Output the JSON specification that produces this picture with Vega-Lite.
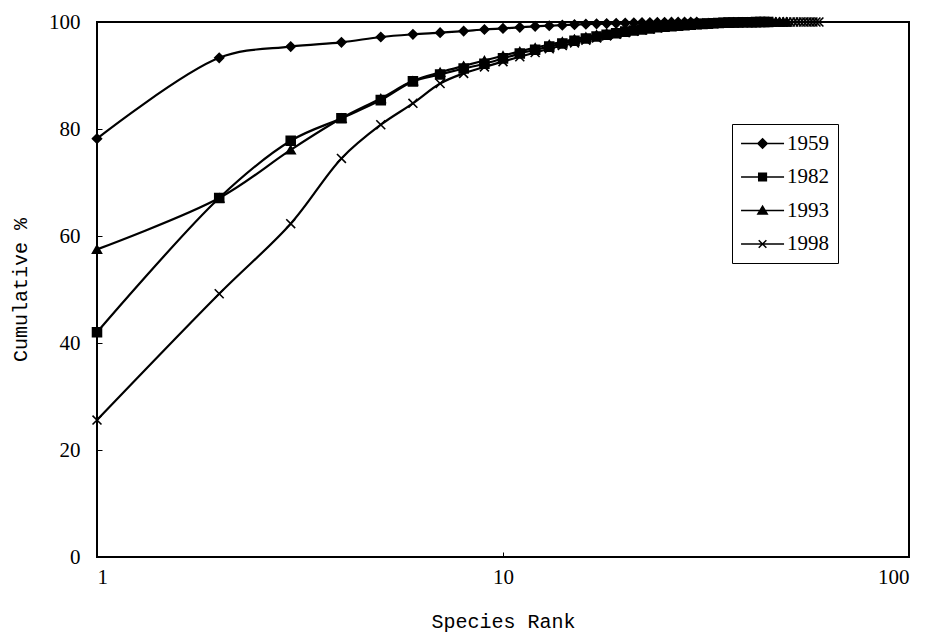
{
  "$schema": "https://vega.github.io/schema/vega-lite/v6.json",
  "width": 812,
  "height": 535,
  "autosize": "none",
  "padding": {"left": 97, "top": 22, "right": 25, "bottom": 78},
  "background": "white",
  "config": {
    "view": {"stroke": "black", "strokeWidth": 2},
    "axis": {
      "labelFont": "Liberation Serif",
      "labelFontSize": 21,
      "labelColor": "black",
      "titleFont": "Liberation Mono",
      "titleFontSize": 20,
      "titleFontWeight": "normal",
      "titleColor": "black",
      "tickColor": "black",
      "tickSize": -5,
      "domain": false,
      "grid": false
    }
  },
  "datasets": {
    "d": [
      {"year": "1959", "rank": 1, "pct": 78.2}, {"year": "1959", "rank": 2, "pct": 93.3}, {"year": "1959", "rank": 3, "pct": 95.4}, {"year": "1959", "rank": 4, "pct": 96.2}, {"year": "1959", "rank": 5, "pct": 97.2}, {"year": "1959", "rank": 6, "pct": 97.7}, {"year": "1959", "rank": 7, "pct": 98.0}, {"year": "1959", "rank": 8, "pct": 98.3}, {"year": "1959", "rank": 9, "pct": 98.6}, {"year": "1959", "rank": 10, "pct": 98.8},
      {"year": "1959", "rank": 11, "pct": 99.0}, {"year": "1959", "rank": 12, "pct": 99.2}, {"year": "1959", "rank": 13, "pct": 99.3}, {"year": "1959", "rank": 14, "pct": 99.4}, {"year": "1959", "rank": 15, "pct": 99.5}, {"year": "1959", "rank": 16, "pct": 99.6}, {"year": "1959", "rank": 17, "pct": 99.65}, {"year": "1959", "rank": 18, "pct": 99.7}, {"year": "1959", "rank": 19, "pct": 99.75}, {"year": "1959", "rank": 20, "pct": 99.8},
      {"year": "1959", "rank": 21, "pct": 99.85}, {"year": "1959", "rank": 22, "pct": 99.88}, {"year": "1959", "rank": 23, "pct": 99.9}, {"year": "1959", "rank": 24, "pct": 99.92}, {"year": "1959", "rank": 25, "pct": 99.94}, {"year": "1959", "rank": 26, "pct": 99.96}, {"year": "1959", "rank": 27, "pct": 99.97}, {"year": "1959", "rank": 28, "pct": 99.98}, {"year": "1959", "rank": 29, "pct": 99.99}, {"year": "1959", "rank": 30, "pct": 100},

      {"year": "1982", "rank": 1, "pct": 42.0}, {"year": "1982", "rank": 2, "pct": 67.1}, {"year": "1982", "rank": 3, "pct": 77.8}, {"year": "1982", "rank": 4, "pct": 82.0}, {"year": "1982", "rank": 5, "pct": 85.4}, {"year": "1982", "rank": 6, "pct": 88.9}, {"year": "1982", "rank": 7, "pct": 90.2}, {"year": "1982", "rank": 8, "pct": 91.3}, {"year": "1982", "rank": 9, "pct": 92.2}, {"year": "1982", "rank": 10, "pct": 93.2},
      {"year": "1982", "rank": 11, "pct": 94.1}, {"year": "1982", "rank": 12, "pct": 94.8}, {"year": "1982", "rank": 13, "pct": 95.4}, {"year": "1982", "rank": 14, "pct": 96.0}, {"year": "1982", "rank": 15, "pct": 96.5}, {"year": "1982", "rank": 16, "pct": 96.9}, {"year": "1982", "rank": 17, "pct": 97.3}, {"year": "1982", "rank": 18, "pct": 97.6}, {"year": "1982", "rank": 19, "pct": 97.9}, {"year": "1982", "rank": 20, "pct": 98.2},
      {"year": "1982", "rank": 21, "pct": 98.4}, {"year": "1982", "rank": 22, "pct": 98.6}, {"year": "1982", "rank": 23, "pct": 98.8}, {"year": "1982", "rank": 24, "pct": 99.0}, {"year": "1982", "rank": 25, "pct": 99.1}, {"year": "1982", "rank": 26, "pct": 99.2}, {"year": "1982", "rank": 27, "pct": 99.3}, {"year": "1982", "rank": 28, "pct": 99.4}, {"year": "1982", "rank": 29, "pct": 99.5}, {"year": "1982", "rank": 30, "pct": 99.6},
      {"year": "1982", "rank": 31, "pct": 99.65}, {"year": "1982", "rank": 32, "pct": 99.7}, {"year": "1982", "rank": 33, "pct": 99.75}, {"year": "1982", "rank": 34, "pct": 99.8}, {"year": "1982", "rank": 35, "pct": 99.85}, {"year": "1982", "rank": 36, "pct": 99.88}, {"year": "1982", "rank": 37, "pct": 99.9}, {"year": "1982", "rank": 38, "pct": 99.92}, {"year": "1982", "rank": 39, "pct": 99.94}, {"year": "1982", "rank": 40, "pct": 99.96},
      {"year": "1982", "rank": 41, "pct": 99.97}, {"year": "1982", "rank": 42, "pct": 99.98}, {"year": "1982", "rank": 43, "pct": 99.99}, {"year": "1982", "rank": 44, "pct": 100}, {"year": "1982", "rank": 45, "pct": 100},

      {"year": "1993", "rank": 1, "pct": 57.5}, {"year": "1993", "rank": 2, "pct": 67.1}, {"year": "1993", "rank": 3, "pct": 76.1}, {"year": "1993", "rank": 4, "pct": 82.0}, {"year": "1993", "rank": 5, "pct": 85.7}, {"year": "1993", "rank": 6, "pct": 89.0}, {"year": "1993", "rank": 7, "pct": 90.6}, {"year": "1993", "rank": 8, "pct": 91.8}, {"year": "1993", "rank": 9, "pct": 92.8}, {"year": "1993", "rank": 10, "pct": 93.7},
      {"year": "1993", "rank": 11, "pct": 94.5}, {"year": "1993", "rank": 12, "pct": 95.2}, {"year": "1993", "rank": 13, "pct": 95.8}, {"year": "1993", "rank": 14, "pct": 96.3}, {"year": "1993", "rank": 15, "pct": 96.8}, {"year": "1993", "rank": 16, "pct": 97.2}, {"year": "1993", "rank": 17, "pct": 97.6}, {"year": "1993", "rank": 18, "pct": 97.9}, {"year": "1993", "rank": 19, "pct": 98.2}, {"year": "1993", "rank": 20, "pct": 98.5},
      {"year": "1993", "rank": 21, "pct": 98.7}, {"year": "1993", "rank": 22, "pct": 98.9}, {"year": "1993", "rank": 23, "pct": 99.05}, {"year": "1993", "rank": 24, "pct": 99.2}, {"year": "1993", "rank": 25, "pct": 99.3}, {"year": "1993", "rank": 26, "pct": 99.4}, {"year": "1993", "rank": 27, "pct": 99.5}, {"year": "1993", "rank": 28, "pct": 99.58}, {"year": "1993", "rank": 29, "pct": 99.65}, {"year": "1993", "rank": 30, "pct": 99.7},
      {"year": "1993", "rank": 31, "pct": 99.75}, {"year": "1993", "rank": 32, "pct": 99.8}, {"year": "1993", "rank": 33, "pct": 99.84}, {"year": "1993", "rank": 34, "pct": 99.87}, {"year": "1993", "rank": 35, "pct": 99.9}, {"year": "1993", "rank": 36, "pct": 99.92}, {"year": "1993", "rank": 37, "pct": 99.94}, {"year": "1993", "rank": 38, "pct": 99.95}, {"year": "1993", "rank": 39, "pct": 99.96}, {"year": "1993", "rank": 40, "pct": 99.97},
      {"year": "1993", "rank": 41, "pct": 99.98}, {"year": "1993", "rank": 42, "pct": 99.985}, {"year": "1993", "rank": 43, "pct": 99.99}, {"year": "1993", "rank": 44, "pct": 99.995}, {"year": "1993", "rank": 45, "pct": 100}, {"year": "1993", "rank": 46, "pct": 100}, {"year": "1993", "rank": 47, "pct": 100}, {"year": "1993", "rank": 48, "pct": 100}, {"year": "1993", "rank": 49, "pct": 100}, {"year": "1993", "rank": 50, "pct": 100},

      {"year": "1998", "rank": 1, "pct": 25.6}, {"year": "1998", "rank": 2, "pct": 49.2}, {"year": "1998", "rank": 3, "pct": 62.3}, {"year": "1998", "rank": 4, "pct": 74.5}, {"year": "1998", "rank": 5, "pct": 80.8}, {"year": "1998", "rank": 6, "pct": 84.8}, {"year": "1998", "rank": 7, "pct": 88.5}, {"year": "1998", "rank": 8, "pct": 90.4}, {"year": "1998", "rank": 9, "pct": 91.6}, {"year": "1998", "rank": 10, "pct": 92.6},
      {"year": "1998", "rank": 11, "pct": 93.5}, {"year": "1998", "rank": 12, "pct": 94.3}, {"year": "1998", "rank": 13, "pct": 95.0}, {"year": "1998", "rank": 14, "pct": 95.6}, {"year": "1998", "rank": 15, "pct": 96.1}, {"year": "1998", "rank": 16, "pct": 96.6}, {"year": "1998", "rank": 17, "pct": 97.0}, {"year": "1998", "rank": 18, "pct": 97.4}, {"year": "1998", "rank": 19, "pct": 97.7}, {"year": "1998", "rank": 20, "pct": 98.0},
      {"year": "1998", "rank": 21, "pct": 98.3}, {"year": "1998", "rank": 22, "pct": 98.5}, {"year": "1998", "rank": 23, "pct": 98.7}, {"year": "1998", "rank": 24, "pct": 98.9}, {"year": "1998", "rank": 25, "pct": 99.05}, {"year": "1998", "rank": 26, "pct": 99.2}, {"year": "1998", "rank": 27, "pct": 99.3}, {"year": "1998", "rank": 28, "pct": 99.4}, {"year": "1998", "rank": 29, "pct": 99.5}, {"year": "1998", "rank": 30, "pct": 99.6},
      {"year": "1998", "rank": 31, "pct": 99.65}, {"year": "1998", "rank": 32, "pct": 99.7}, {"year": "1998", "rank": 33, "pct": 99.75}, {"year": "1998", "rank": 34, "pct": 99.8}, {"year": "1998", "rank": 35, "pct": 99.84}, {"year": "1998", "rank": 36, "pct": 99.88}, {"year": "1998", "rank": 37, "pct": 99.9}, {"year": "1998", "rank": 38, "pct": 99.92}, {"year": "1998", "rank": 39, "pct": 99.94}, {"year": "1998", "rank": 40, "pct": 99.96},
      {"year": "1998", "rank": 41, "pct": 99.97}, {"year": "1998", "rank": 42, "pct": 99.98}, {"year": "1998", "rank": 43, "pct": 99.99}, {"year": "1998", "rank": 44, "pct": 100}, {"year": "1998", "rank": 45, "pct": 100}, {"year": "1998", "rank": 46, "pct": 100}, {"year": "1998", "rank": 47, "pct": 100}, {"year": "1998", "rank": 48, "pct": 100}, {"year": "1998", "rank": 49, "pct": 100}, {"year": "1998", "rank": 50, "pct": 100},
      {"year": "1998", "rank": 51, "pct": 100}, {"year": "1998", "rank": 52, "pct": 100}, {"year": "1998", "rank": 53, "pct": 100}, {"year": "1998", "rank": 54, "pct": 100}, {"year": "1998", "rank": 55, "pct": 100}, {"year": "1998", "rank": 56, "pct": 100}, {"year": "1998", "rank": 57, "pct": 100}, {"year": "1998", "rank": 58, "pct": 100}, {"year": "1998", "rank": 59, "pct": 100}, {"year": "1998", "rank": 60, "pct": 100}
    ]
  },
  "data": {"name": "d"},
  "encoding": {
    "x": {
      "field": "rank",
      "type": "quantitative",
      "scale": {"type": "log", "domain": [1, 100], "nice": false},
      "axis": {"values": [1, 10, 100], "format": "d", "title": "Species Rank", "labelPadding": 14, "titlePadding": 24}
    },
    "y": {
      "field": "pct",
      "type": "quantitative",
      "scale": {"domain": [0, 100], "nice": false},
      "axis": {"values": [0, 20, 40, 60, 80, 100], "title": "Cumulative %", "labelPadding": 22, "titlePadding": 18}
    }
  },
  "layer": [
    {
      "mark": {"type": "line", "color": "black", "strokeWidth": 2.2, "interpolate": "catmull-rom"},
      "encoding": {"detail": {"field": "year"}}
    },
    {
      "mark": {"type": "point", "filled": true, "fill": "black", "stroke": "black", "strokeWidth": 1.6, "opacity": 1, "size": 80},
      "encoding": {
        "shape": {
          "field": "year",
          "scale": {"domain": ["1959", "1982", "1993", "1998"], "range": ["diamond", "square", "triangle-up", "M-1,-1L1,1M-1,1L1,-1"]},
          "legend": null
        }
      }
    },
    {
      "transform": [{"filter": "datum.rank < 0"}],
      "mark": {"type": "point", "filled": true, "fill": "black", "stroke": "black", "opacity": 1},
      "encoding": {
        "shape": {
          "field": "year",
          "scale": {
            "domain": ["1959", "1982", "1993", "1998"],
            "range": [
              "M-1.23,0H3.83M1.3,-0.55L1.85,0L1.3,0.55L0.75,0Z",
              "M-1.23,0H3.83M0.85,-0.45H1.75V0.45H0.85Z",
              "M-1.23,0H3.83M1.3,-0.5L1.85,0.4H0.75Z",
              "M-1.23,0H3.83M0.85,-0.45L1.75,0.45M0.85,0.45L1.75,-0.45"
            ]
          },
          "legend": {
            "title": null,
            "orient": "none",
            "legendX": 635,
            "legendY": 102,
            "padding": 9,
            "strokeColor": "black",
            "fillColor": "white",
            "symbolSize": 289,
            "symbolOpacity": 1,
            "labelFont": "Liberation Serif",
            "labelFontSize": 21,
            "labelColor": "black",
            "labelOffset": 25,
            "rowPadding": 11.5,
            "encode": {
              "symbols": {
                "update": {
                  "stroke": {"value": "black"},
                  "fill": {"value": "black"},
                  "strokeWidth": {"value": 1.8},
                  "opacity": {"value": 1}
                }
              }
            }
          }
        }
      }
    }
  ],
  "resolve": {"scale": {"shape": "independent"}}
}
